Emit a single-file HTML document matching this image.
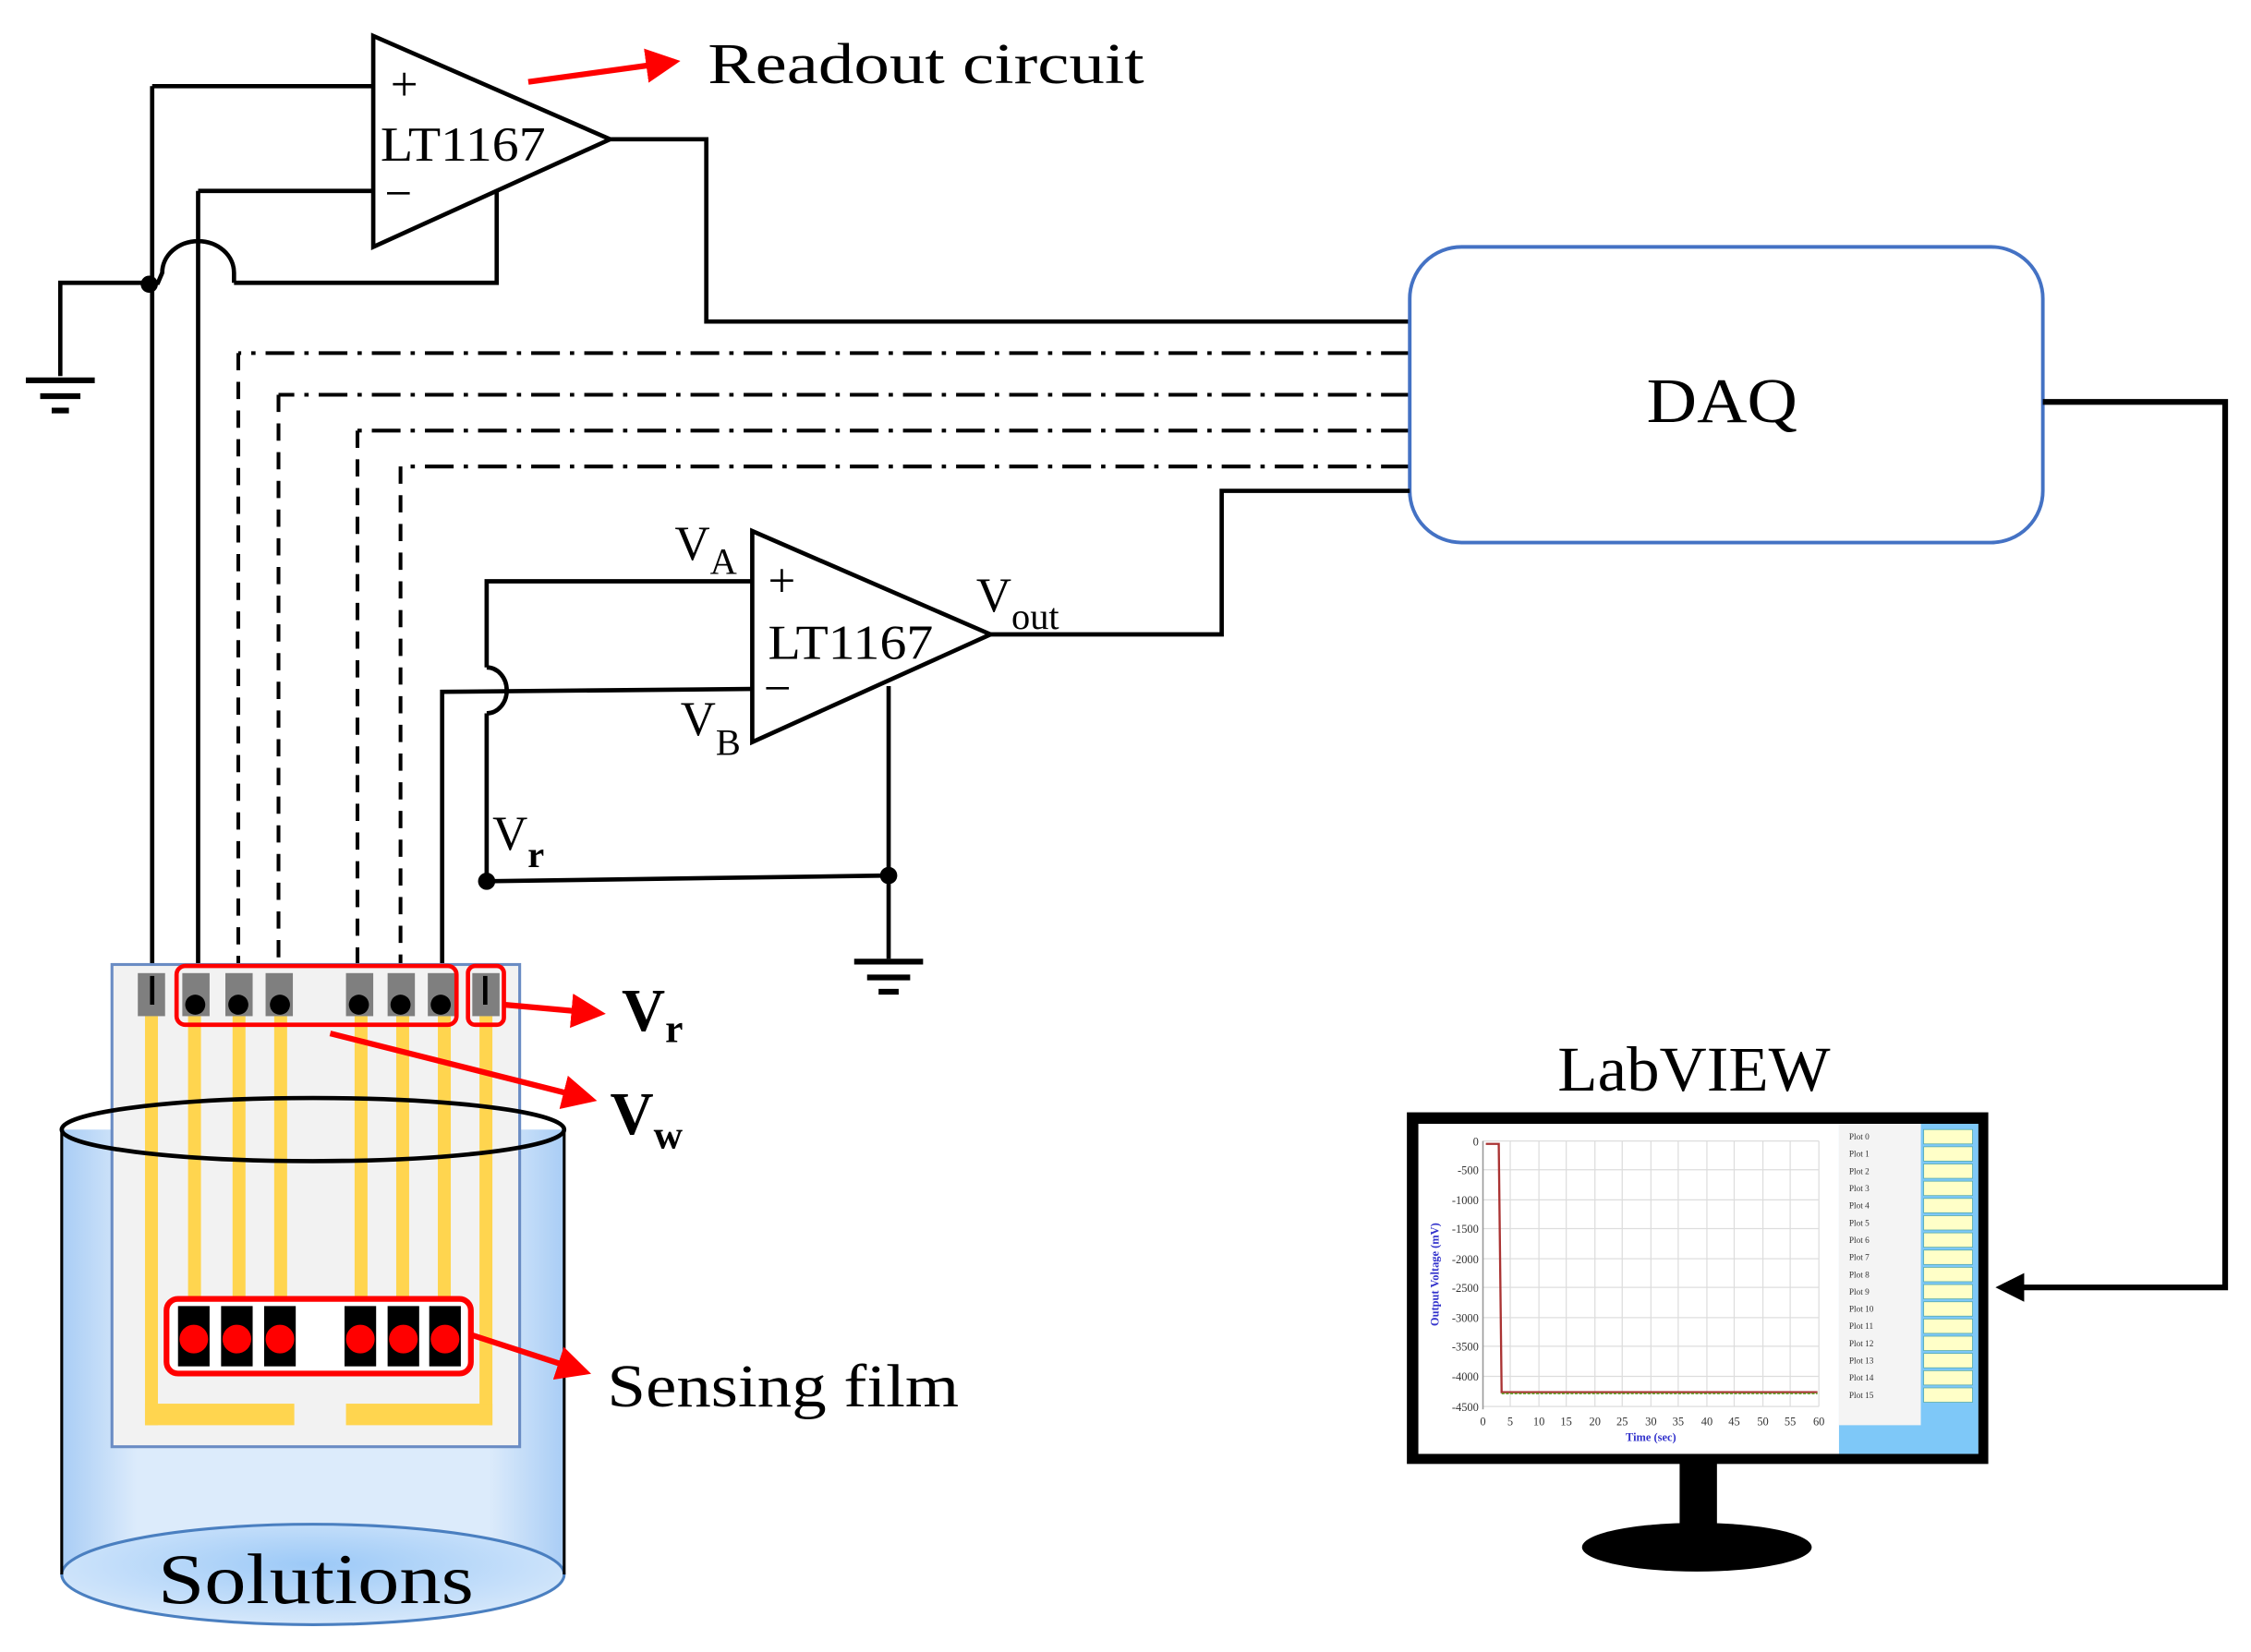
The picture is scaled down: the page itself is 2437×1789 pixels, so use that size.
<!DOCTYPE html>
<html><head><meta charset="utf-8"><style>
html,body{margin:0;padding:0;background:#fff;}
svg{display:block;}
text{font-family:"Liberation Serif",serif;}
</style></head><body>
<svg width="2437" height="1789" viewBox="0 0 1568 1151" xmlns="http://www.w3.org/2000/svg">
<defs>
<linearGradient id="cyl" x1="0" x2="1" y1="0" y2="0">
<stop offset="0" stop-color="#a9cdf5"/><stop offset="0.15" stop-color="#dcebfb"/><stop offset="0.85" stop-color="#dcebfb"/><stop offset="1" stop-color="#a9cdf5"/></linearGradient>
<radialGradient id="bot" cx="0.5" cy="0.4" r="0.6"><stop offset="0" stop-color="#9cc9f7"/><stop offset="1" stop-color="#d6e8fb"/></radialGradient>
<marker id="ar" markerWidth="6" markerHeight="6" refX="5" refY="3" orient="auto" markerUnits="strokeWidth"><path d="M0,0 L6,3 L0,6 z" fill="#f00"/></marker>
</defs>
<g fill="none" stroke="#000" stroke-width="3">
<polygon points="260,25 260,172 425,97" fill="#fff"/>
<polyline points="106,60 260,60"/>
<polyline points="138,133 260,133"/>
<polyline points="425,97 492,97 492,224 982,224"/>
<line x1="106" y1="60" x2="106" y2="690"/>
<line x1="138" y1="133" x2="138" y2="700"/>
<polyline points="346,133 346,197 163,197"/>
<path d="M163,197 L163,190 A25,22 0 0 0 113,190 L110,197 L42,197 L42,262"/>
<g stroke-dasharray="20 7 3 7" stroke-width="2.6">
<polyline points="982,246 166,246"/>
<polyline points="982,275 194,275"/>
<polyline points="982,300 249,300"/>
<polyline points="982,325 279,325"/>
</g>
<g stroke-dasharray="12 8" stroke-width="2.6">
<line x1="166" y1="246" x2="166" y2="690"/>
<line x1="194" y1="275" x2="194" y2="690"/>
<line x1="249" y1="300" x2="249" y2="690"/>
<line x1="279" y1="325" x2="279" y2="690"/>
</g>
<rect x="982" y="172" width="441" height="206" rx="36" stroke="#4472c4" stroke-width="2.5" fill="#fff"/>
<polyline points="1423,280 1550,280 1550,897 1400,897" stroke-width="4"/>
<polyline points="982,342 851,342 851,442 690,442"/>
<polygon points="524,370 524,517 690,442" fill="#fff"/>
<polyline points="339,614 339,497"/>
<path d="M339,497 A14,16 0 0 0 339,465"/>
<polyline points="339,465 339,405 524,405"/>
<polyline points="524,480 308,482 308,700"/>
<polyline points="339,614 619,610"/>
<line x1="619" y1="478" x2="619" y2="668"/>
</g>
<g stroke="#000" stroke-width="4">
<line x1="18" y1="265" x2="66" y2="265"/><line x1="28" y1="276" x2="56" y2="276"/><line x1="36" y1="286" x2="48" y2="286"/>
<line x1="595" y1="670" x2="643" y2="670"/><line x1="604" y1="681" x2="634" y2="681"/><line x1="612" y1="691" x2="626" y2="691"/>
</g>
<circle cx="104" cy="198" r="6"/><circle cx="339" cy="614" r="6"/><circle cx="619" cy="610" r="6"/>
<path d="M1390,897 L1410,887 L1410,907 z"/>
<g font-size="34">
<text x="272" y="70">+</text><text x="268" y="146">−</text>
<text x="265" y="112" textLength="115" lengthAdjust="spacingAndGlyphs">LT1167</text>
<text x="535" y="416">+</text><text x="532" y="491">−</text>
<text x="535" y="459" textLength="115" lengthAdjust="spacingAndGlyphs">LT1167</text>
<text x="470" y="390">V<tspan font-size="26" dy="10">A</tspan></text>
<text x="474" y="512">V<tspan font-size="26" dy="14">B</tspan></text>
<text x="680" y="426">V<tspan font-size="26" dy="12">out</tspan></text>
<text x="343" y="592">V<tspan font-size="26" dy="12" font-weight="bold">r</tspan></text>
</g>
<text x="493" y="58" font-size="40" textLength="304" lengthAdjust="spacingAndGlyphs">Readout circuit</text>
<line x1="368" y1="57" x2="470" y2="43" stroke="#f00" stroke-width="4" marker-end="url(#ar)"/>
<text x="1147" y="294" font-size="44" textLength="105" lengthAdjust="spacingAndGlyphs">DAQ</text>
<path d="M43,787 L43,1097 A175,35 0 0 0 393,1097 L393,787 z" fill="url(#cyl)"/>
<ellipse cx="218" cy="1097" rx="175" ry="35" fill="url(#bot)" stroke="#4a7fc0" stroke-width="2"/>
<line x1="43" y1="787" x2="43" y2="1097" stroke="#000" stroke-width="2"/>
<line x1="393" y1="787" x2="393" y2="1097" stroke="#000" stroke-width="2"/>
<rect x="78" y="672" width="284" height="336" fill="#f2f2f2" stroke="#6a8cc4" stroke-width="2"/>
<g fill="#ffd54f">
<rect x="101" y="708" width="9" height="285"/><rect x="101" y="978" width="104" height="15"/>
<rect x="334" y="708" width="9" height="285"/><rect x="241" y="978" width="102" height="15"/>
<rect x="131" y="708" width="9" height="200"/><rect x="162" y="708" width="9" height="200"/><rect x="191" y="708" width="9" height="200"/>
<rect x="247" y="708" width="9" height="200"/><rect x="276" y="708" width="9" height="200"/><rect x="305" y="708" width="9" height="200"/>
</g>
<g fill="#7f7f7f">
<rect x="96" y="678" width="19" height="30"/><rect x="127" y="678" width="19" height="30"/><rect x="157" y="678" width="19" height="30"/><rect x="185" y="678" width="19" height="30"/>
<rect x="241" y="678" width="19" height="30"/><rect x="270" y="678" width="19" height="30"/><rect x="298" y="678" width="19" height="30"/><rect x="329" y="678" width="19" height="30"/>
</g>
<g stroke="#000" stroke-width="3"><line x1="106" y1="680" x2="106" y2="700"/><line x1="338" y1="680" x2="338" y2="700"/></g>
<g><circle cx="136" cy="700" r="7"/><circle cx="166" cy="700" r="7"/><circle cx="195" cy="700" r="7"/><circle cx="250" cy="700" r="7"/><circle cx="279" cy="700" r="7"/><circle cx="307" cy="700" r="7"/></g>
<rect x="123" y="673" width="195" height="41" rx="6" fill="none" stroke="#f00" stroke-width="3"/>
<rect x="326" y="673" width="25" height="41" rx="5" fill="none" stroke="#f00" stroke-width="3"/>
<rect x="116" y="905" width="212" height="52" rx="8" fill="#fff" stroke="#f00" stroke-width="4"/>
<g fill="#000"><rect x="124" y="910" width="22" height="42"/><rect x="154" y="910" width="22" height="42"/><rect x="184" y="910" width="22" height="42"/><rect x="240" y="910" width="22" height="42"/><rect x="270" y="910" width="22" height="42"/><rect x="299" y="910" width="22" height="42"/></g>
<g fill="#f00"><circle cx="135" cy="933" r="10"/><circle cx="165" cy="933" r="10"/><circle cx="195" cy="933" r="10"/><circle cx="251" cy="933" r="10"/><circle cx="281" cy="933" r="10"/><circle cx="310" cy="933" r="10"/></g>
<ellipse cx="218" cy="787" rx="175" ry="22" fill="none" stroke="#000" stroke-width="3"/>
<text x="110" y="1117" font-size="50" textLength="220" lengthAdjust="spacingAndGlyphs">Solutions</text>
<g stroke="#f00" stroke-width="4" fill="none">
<line x1="351" y1="700" x2="418" y2="706" marker-end="url(#ar)"/>
<line x1="230" y1="720" x2="412" y2="766" marker-end="url(#ar)"/>
<line x1="328" y1="930" x2="408" y2="956" marker-end="url(#ar)"/>
</g>
<text x="433" y="718" font-size="42" font-weight="bold">V<tspan font-size="28" dy="8">r</tspan></text>
<text x="425" y="790" font-size="42" font-weight="bold">V<tspan font-size="28" dy="10">w</tspan></text>
<text x="423" y="980" font-size="42" textLength="245" lengthAdjust="spacingAndGlyphs">Sensing film</text>
<text x="1085" y="760" font-size="44" textLength="190" lengthAdjust="spacingAndGlyphs">LabVIEW</text>
<rect x="1170" y="1018" width="26" height="52"/>
<ellipse cx="1182" cy="1078" rx="80" ry="17"/>
<rect x="980" y="775" width="405" height="245" fill="#000"/>
<rect x="988" y="783" width="390" height="230" fill="#fff"/>
<rect x="1281" y="783" width="97" height="230" fill="#7ec8f8"/>
<rect x="1281" y="783" width="57" height="210" fill="#f4f4f4"/>
<g fill="#ffffc8" stroke="#5aa" stroke-width="0.5">
<rect x="1340" y="787" width="34" height="10"/><rect x="1340" y="799" width="34" height="10"/><rect x="1340" y="811" width="34" height="10"/><rect x="1340" y="823" width="34" height="10"/>
<rect x="1340" y="835" width="34" height="10"/><rect x="1340" y="847" width="34" height="10"/><rect x="1340" y="859" width="34" height="10"/><rect x="1340" y="871" width="34" height="10"/>
<rect x="1340" y="883" width="34" height="10"/><rect x="1340" y="895" width="34" height="10"/><rect x="1340" y="907" width="34" height="10"/><rect x="1340" y="919" width="34" height="10"/>
<rect x="1340" y="931" width="34" height="10"/><rect x="1340" y="943" width="34" height="10"/><rect x="1340" y="955" width="34" height="10"/><rect x="1340" y="967" width="34" height="10"/>
</g>
<g font-family="Liberation Sans" font-size="6" fill="#333">
<text x="1288" y="794">Plot 0</text><text x="1288" y="806">Plot 1</text><text x="1288" y="818">Plot 2</text><text x="1288" y="830">Plot 3</text>
<text x="1288" y="842">Plot 4</text><text x="1288" y="854">Plot 5</text><text x="1288" y="866">Plot 6</text><text x="1288" y="878">Plot 7</text>
<text x="1288" y="890">Plot 8</text><text x="1288" y="902">Plot 9</text><text x="1288" y="914">Plot 10</text><text x="1288" y="926">Plot 11</text>
<text x="1288" y="938">Plot 12</text><text x="1288" y="950">Plot 13</text><text x="1288" y="962">Plot 14</text><text x="1288" y="974">Plot 15</text>
</g>
<g stroke="#ddd" stroke-width="0.8">
<line x1="1033" y1="795" x2="1267" y2="795"/><line x1="1033" y1="815" x2="1267" y2="815"/><line x1="1033" y1="836" x2="1267" y2="836"/><line x1="1033" y1="856" x2="1267" y2="856"/><line x1="1033" y1="877" x2="1267" y2="877"/><line x1="1033" y1="897" x2="1267" y2="897"/><line x1="1033" y1="918" x2="1267" y2="918"/><line x1="1033" y1="938" x2="1267" y2="938"/><line x1="1033" y1="959" x2="1267" y2="959"/><line x1="1033" y1="980" x2="1267" y2="980"/>
<line x1="1052" y1="795" x2="1052" y2="980"/><line x1="1072" y1="795" x2="1072" y2="980"/><line x1="1091" y1="795" x2="1091" y2="980"/><line x1="1111" y1="795" x2="1111" y2="980"/><line x1="1130" y1="795" x2="1130" y2="980"/><line x1="1150" y1="795" x2="1150" y2="980"/><line x1="1169" y1="795" x2="1169" y2="980"/><line x1="1189" y1="795" x2="1189" y2="980"/><line x1="1208" y1="795" x2="1208" y2="980"/><line x1="1228" y1="795" x2="1228" y2="980"/><line x1="1247" y1="795" x2="1247" y2="980"/><line x1="1267" y1="795" x2="1267" y2="980"/>
</g>
<line x1="1033" y1="795" x2="1033" y2="982" stroke="#999" stroke-width="1"/>
<polyline points="1035,797 1044,797 1046,970 1266,970" fill="none" stroke="#a33" stroke-width="1.5"/>
<line x1="1046" y1="971" x2="1266" y2="971" stroke="#6a3" stroke-width="1" stroke-dasharray="2 1"/>
<g font-family="Liberation Sans" font-size="8" fill="#333" text-anchor="end">
<text x="1030" y="798">0</text><text x="1030" y="818">-500</text><text x="1030" y="839">-1000</text><text x="1030" y="859">-1500</text><text x="1030" y="880">-2000</text><text x="1030" y="900">-2500</text><text x="1030" y="921">-3000</text><text x="1030" y="941">-3500</text><text x="1030" y="962">-4000</text><text x="1030" y="983">-4500</text>
</g>
<g font-family="Liberation Sans" font-size="8" fill="#333" text-anchor="middle">
<text x="1033" y="993">0</text><text x="1052" y="993">5</text><text x="1072" y="993">10</text><text x="1091" y="993">15</text><text x="1111" y="993">20</text><text x="1130" y="993">25</text><text x="1150" y="993">30</text><text x="1169" y="993">35</text><text x="1189" y="993">40</text><text x="1208" y="993">45</text><text x="1228" y="993">50</text><text x="1247" y="993">55</text><text x="1267" y="993">60</text>
</g>
<text x="1150" y="1004" font-family="Liberation Sans" font-size="8" fill="#33c" text-anchor="middle" font-weight="bold">Time (sec)</text>
<text transform="translate(1002,888) rotate(-90)" font-family="Liberation Sans" font-size="8" fill="#33c" text-anchor="middle" font-weight="bold">Output Voltage (mV)</text>
</svg>
</body></html>
